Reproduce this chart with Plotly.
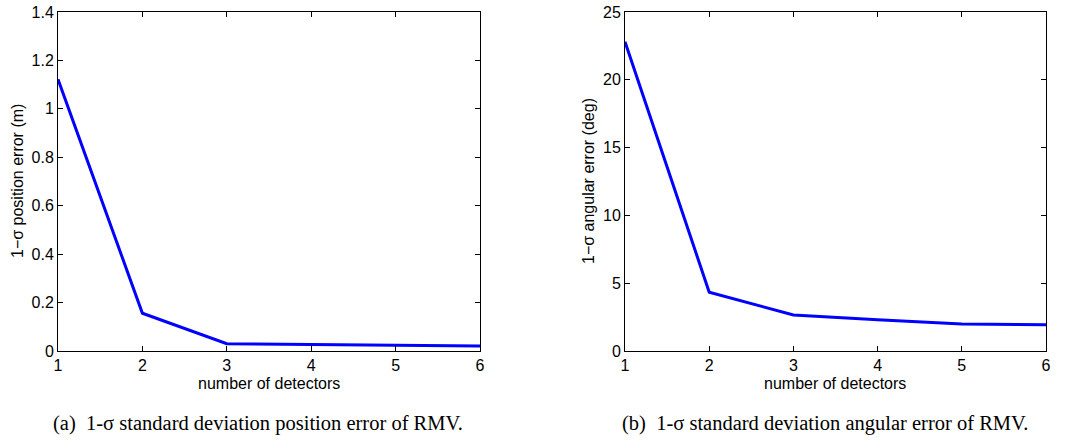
import plotly.graph_objects as go

detectors = [1, 2, 3, 4, 5, 6]
position_error = [1.122, 0.156, 0.030, 0.027, 0.025, 0.021]
angular_error = [22.8, 4.34, 2.66, 2.30, 2.00, 1.93]

W, H = 1071, 440


def px(x):
    return x / W


def py(y):
    return 1 - y / H


fig = go.Figure()
fig.add_trace(go.Scatter(x=detectors, y=position_error, mode="lines",
                         line=dict(color="#0000FF", width=3), xaxis="x", yaxis="y"))
fig.add_trace(go.Scatter(x=detectors, y=angular_error, mode="lines",
                         line=dict(color="#0000FF", width=3), xaxis="x2", yaxis="y2"))

tickfont = dict(family="Liberation Sans, Arial", size=16, color="black")
ax_common = dict(showgrid=False, zeroline=False, showline=True, linecolor="black",
                 linewidth=1, mirror="ticks", ticks="inside", ticklen=5,
                 tickcolor="black", tickfont=tickfont, automargin=False,
                 ticklabeloverflow="allow")

ydom = [py(351), py(12)]
fig.update_layout(
    width=W, height=H, margin=dict(l=0, r=0, t=0, b=0, pad=0, autoexpand=False),
    paper_bgcolor="white", plot_bgcolor="white", showlegend=False,
    xaxis=dict(domain=[px(58), px(480)], range=[1, 6], tickvals=detectors,
               anchor="y", **ax_common),
    yaxis=dict(domain=ydom, range=[0, 1.4], tickvals=[0, 0.2, 0.4, 0.6, 0.8, 1, 1.2, 1.4],
               ticktext=["0", "0.2", "0.4", "0.6", "0.8", "1", "1.2", "1.4"],
               anchor="x", **ax_common),
    xaxis2=dict(domain=[px(625), px(1046)], range=[1, 6], tickvals=detectors,
                anchor="y2", **ax_common),
    yaxis2=dict(domain=ydom, range=[0, 25], tickvals=[0, 5, 10, 15, 20, 25],
                anchor="x2", **ax_common),
)

lab = dict(family="Liberation Sans, Arial", size=16, color="black")
cap = dict(family="Liberation Serif, Times New Roman", size=20.5, color="black")
ann = [
    dict(text="number of detectors", x=269, y=383, font=lab),
    dict(text="number of detectors", x=835, y=383, font=lab),
    dict(text="1−σ position error (m)", x=17, y=181, font=lab, textangle=-90),
    dict(text="1−σ angular error (deg)", x=588, y=181, font=lab, textangle=-90),
    dict(text="(a)  1-σ standard deviation position error of RMV.", x=258, y=423, font=cap),
    dict(text="(b)  1-σ standard deviation angular error of RMV.", x=825, y=423, font=cap),
]
for a in ann:
    fig.add_annotation(text=a["text"], x=px(a["x"]), y=py(a["y"]),
                       xref="paper", yref="paper", showarrow=False,
                       xanchor="center", yanchor="middle", font=a["font"],
                       textangle=a.get("textangle", 0))

fig.write_html("out.html", config={"displayModeBar": False},
               post_script="document.body.style.margin='0';")
